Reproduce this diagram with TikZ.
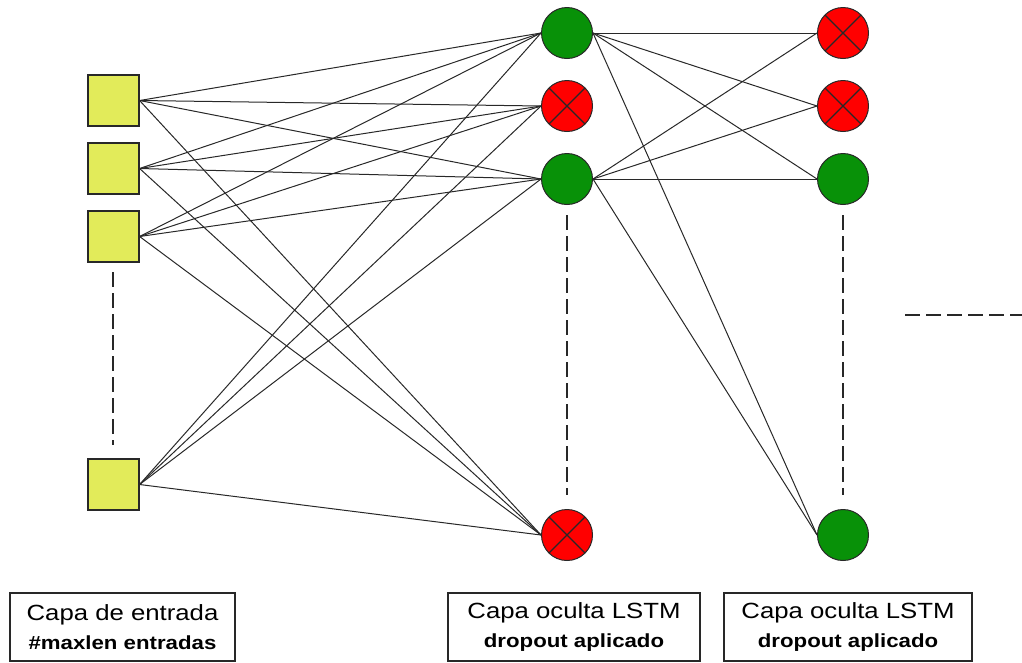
\documentclass[tikz,border=0pt]{standalone}
\usepackage{fontspec}
\setmainfont{Liberation Sans}
\newfontfamily\capfont[FakeStretch=1.17]{Liberation Sans}
\definecolor{inyellow}{RGB}{226,235,90}
\definecolor{ongreen}{RGB}{8,145,8}
\definecolor{offred}{RGB}{255,0,0}
\definecolor{edge}{RGB}{40,40,40}
\newcommand{\capline}[2]{{\fontsize{22}{29}\selectfont #1}\\{\fontsize{19}{29}\selectfont\bfseries #2}}
\begin{document}
\begin{tikzpicture}[x=1pt,y=-1pt,
  inp/.style={rectangle, draw=edge, fill=inyellow, minimum size=51pt, inner sep=0pt, line width=1.2pt},
  on/.style={circle, draw=edge, fill=ongreen, minimum size=51pt, inner sep=0pt, line width=1pt},
  off/.style={circle, draw=edge, fill=offred, minimum size=51pt, inner sep=0pt, line width=1pt,
    path picture={\draw[line width=1.1pt, edge]
      (path picture bounding box.north west) -- (path picture bounding box.south east)
      (path picture bounding box.north east) -- (path picture bounding box.south west);}},
  link/.style={draw=edge, line width=1pt},
  gap/.style={draw=edge, line width=1.4pt, dash pattern=on 15pt off 6pt},
  caption/.style={draw=edge, line width=1.4pt, minimum height=68pt, inner sep=0pt, align=center,
    font=\capfont\fontsize{19}{29}\selectfont},
]
\useasboundingbox (0,0) rectangle (1022,662);

% input layer
\node[inp] (i1) at (113.5,100.5) {};
\node[inp] (i2) at (113.5,168.5) {};
\node[inp] (i3) at (113.5,236.5) {};
\node[inp] (i4) at (113.5,484.5) {};

% first LSTM layer
\node[on]  (a1) at (567,33)  {};
\node[off] (a2) at (567,106) {};
\node[on]  (a3) at (567,179) {};
\node[off] (a4) at (567,535) {};

% second LSTM layer
\node[off] (b1) at (843,33)  {};
\node[off] (b2) at (843,106) {};
\node[on]  (b3) at (843,179) {};
\node[on]  (b4) at (843,535) {};

% input -> first layer
\foreach \i in {1,2,3,4}
  \foreach \j in {1,2,3,4}
    \draw[link] (i\i.east) -- (a\j.west);

% active units of the first layer -> second layer
\foreach \i in {1,3}
  \foreach \j in {1,2,3,4}
    \draw[link] (a\i.east) -- (b\j.west);

% elided units
\coordinate (g1s) at (113,272); \coordinate (g1e) at (113,445);
\coordinate (g2s) at (567,215); \coordinate (g2e) at (567,495);
\coordinate (g3s) at (843,215); \coordinate (g3e) at (843,495);
\coordinate (g4s) at (905,315); \coordinate (g4e) at (1022,315);
\draw[gap] (g1s) -- (g1e);
\draw[gap] (g2s) -- (g2e);
\draw[gap] (g3s) -- (g3e);
\draw[gap] (g4s) -- (g4e);

% captions
\node[caption, minimum width=225pt] (c1) at (122.5,627)
  {\capline{Capa de entrada}{\#maxlen entradas}};
\node[caption, minimum width=252pt] (c2) at (574,627)
  {\capline{Capa oculta LSTM}{dropout aplicado}};
\node[caption, minimum width=248pt] (c3) at (848,627)
  {\capline{Capa oculta LSTM}{dropout aplicado}};
\end{tikzpicture}
\end{document}
